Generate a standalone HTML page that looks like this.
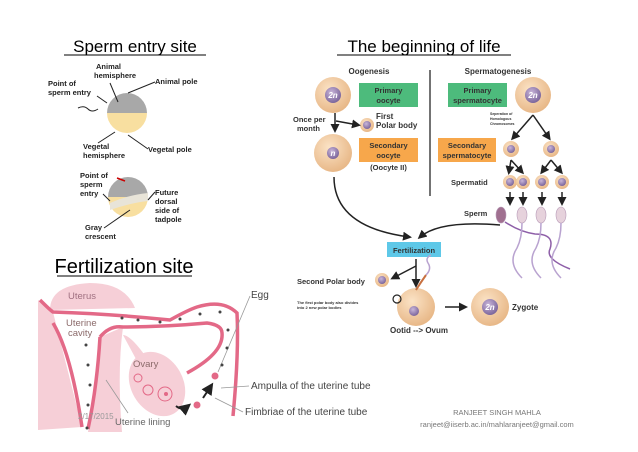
<!DOCTYPE html>
<html><head><style>
html,body{margin:0;padding:0;background:#fff;}
svg{display:block;font-family:"Liberation Sans",Arial,sans-serif;}
</style></head><body>
<svg width="638" height="452" viewBox="0 0 638 452" xmlns="http://www.w3.org/2000/svg">
<defs>
<radialGradient id="cell" cx="40%" cy="35%" r="65%"><stop offset="0" stop-color="#fbe3c6"/><stop offset="1" stop-color="#e8b888"/></radialGradient>
<radialGradient id="nuc" cx="40%" cy="35%" r="65%"><stop offset="0" stop-color="#c9b6d9"/><stop offset="1" stop-color="#7c669c"/></radialGradient>
<marker id="ah" markerWidth="6" markerHeight="6" refX="4" refY="3" orient="auto"><path d="M0,0 L6,3 L0,6 z" fill="#222"/></marker>
</defs>
<!-- titles -->
<text x="135" y="52" font-size="17" text-anchor="middle">Sperm entry site</text>
<line x1="64" y1="55" x2="206" y2="55" stroke="#000" stroke-width="1"/>
<text x="424" y="52" font-size="17" text-anchor="middle">The beginning of life</text>
<line x1="337" y1="55" x2="511" y2="55" stroke="#000" stroke-width="1"/>
<text x="124" y="273" font-size="20" text-anchor="middle">Fertilization site</text>
<line x1="57" y1="276" x2="192" y2="276" stroke="#000" stroke-width="1"/>

<!-- frog eggs -->
<g font-size="7.5" font-weight="bold" fill="#222">
<path d="M107,113 a20,20 0 0 1 40,0 z" fill="#a8a8a8"/>
<path d="M107,113 a20,20 0 0 0 40,0 z" fill="#f8dfa0"/>
<text x="96" y="69">Animal</text><text x="94" y="78">hemisphere</text>
<text x="155" y="84">Animal pole</text>
<text x="48" y="86">Point of</text><text x="48" y="95">sperm entry</text>
<text x="83" y="149">Vegetal</text><text x="83" y="158">hemisphere</text>
<text x="148" y="152">Vegetal pole</text>
<line x1="110" y1="83" x2="118" y2="102" stroke="#222"/>
<line x1="155" y1="82" x2="128" y2="93" stroke="#222"/>
<line x1="97" y1="96" x2="107" y2="103" stroke="#222"/>
<path d="M78,108 q6,-3 10,1 t10,0" stroke="#222" fill="none"/>
<line x1="98" y1="143" x2="115" y2="132" stroke="#222"/>
<line x1="148" y1="149" x2="128" y2="135" stroke="#222"/>
<path d="M108,197 a20,20 0 0 1 40,0 z" fill="#a8a8a8"/>
<path d="M108,197 a20,20 0 0 0 40,0 z" fill="#f8dfa0"/>
<path d="M110,203 q18,-8 38,-10 l0,8 q-18,2 -38,9 z" fill="#e8e4d8"/>
<path d="M117,178 l8,3" stroke="#c00" stroke-width="1.5"/>
<text x="80" y="178">Point of</text><text x="80" y="187">sperm</text><text x="80" y="196">entry</text>
<text x="155" y="195">Future</text><text x="155" y="204">dorsal</text><text x="155" y="213">side of</text><text x="155" y="222">tadpole</text>
<text x="85" y="230">Gray</text><text x="85" y="239">crescent</text>
<line x1="103" y1="194" x2="110" y2="201" stroke="#222"/>
<line x1="104" y1="228" x2="130" y2="210" stroke="#222"/>
<line x1="155" y1="192" x2="148" y2="200" stroke="#222"/>
</g>

<!-- uterus -->
<g>
<path d="M50,310 q0,-25 40,-27 q35,0 45,25 z" fill="#f6cfd7"/>
<path d="M38,300 L53,312 q10,40 29,115 L38,430 z" fill="#f6cfd7"/>
<path d="M100,337 q-5,50 -12,95 L122,432 q-5,-60 1,-105 z" fill="#f6cfd7"/>
<path d="M123,335 q10,0 35,40 L150,385 z" fill="#f6cfd7"/>
<ellipse cx="157" cy="384" rx="26" ry="34" fill="#f6cfd7" transform="rotate(-30 157 384)"/>
<path d="M40,300 q10,10 13,12 q60,2 117,8 q18,-10 27,-13 q26,-8 40,6 q2,40 -4,103" stroke="#e36987" stroke-width="3.5" fill="none"/>
<path d="M100,337 q10,-12 23,-10 q40,0 84,-4 q15,2 15,10 q2,20 -35,40" stroke="#e36987" stroke-width="3.5" fill="none"/>
<path d="M53,323 q18,30 29,104" stroke="#e36987" stroke-width="3.5" fill="none"/>
<path d="M100,337 q-3,50 -12,92" stroke="#e36987" stroke-width="3.5" fill="none"/>
<circle cx="138" cy="378" r="4" fill="none" stroke="#e36987"/>
<circle cx="148" cy="390" r="5" fill="none" stroke="#e36987"/>
<circle cx="165" cy="394" r="7" fill="none" stroke="#e36987"/>
<circle cx="166" cy="394" r="2" fill="#e36987"/>
<circle cx="197" cy="405" r="3.5" fill="#e36987"/>
<circle cx="215" cy="376" r="3.5" fill="#e36987"/>
<path d="M176,406 q6,5 12,0" stroke="#222" stroke-width="2" fill="none" marker-end="url(#ah)"/>
<path d="M203,398 l8,-12" stroke="#222" stroke-width="2" marker-end="url(#ah)"/>
<g font-size="9.5" fill="#8c6b6b">
<text x="68" y="299" fill="#a07080">Uterus</text>
<text x="66" y="326">Uterine</text><text x="68" y="336">cavity</text>
<text x="133" y="367">Ovary</text>
<text x="115" y="425" fill="#666">Uterine lining</text>
</g>
<g font-size="10" fill="#444">
<text x="251" y="298">Egg</text>
<text x="251" y="389">Ampulla of the uterine tube</text>
<text x="245" y="415">Fimbriae of the uterine tube</text>
</g>
<g stroke="#999" stroke-width="0.8">
<line x1="218" y1="372" x2="250" y2="296"/>
<line x1="221" y1="388" x2="249" y2="386"/>
<line x1="215" y1="398" x2="243" y2="412"/>
<line x1="106" y1="380" x2="128" y2="413"/>
</g>
<g fill="#444">
<circle cx="122" cy="318" r="1.5"/><circle cx="138" cy="320" r="1.5"/><circle cx="160" cy="322" r="1.5"/><circle cx="180" cy="319" r="1.5"/><circle cx="200" cy="314" r="1.5"/><circle cx="220" cy="312" r="1.5"/><circle cx="228" cy="330" r="1.5"/><circle cx="227" cy="348" r="1.5"/><circle cx="222" cy="365" r="1.5"/><circle cx="86" cy="345" r="1.5"/><circle cx="88" cy="365" r="1.5"/><circle cx="90" cy="385" r="1.5"/><circle cx="88" cy="405" r="1.5"/><circle cx="87" cy="428" r="1.5"/>
</g>
</g>

<!-- beginning of life -->
<g font-weight="bold" fill="#333">
<text x="369" y="74" font-size="8" text-anchor="middle">Oogenesis</text>
<text x="498" y="74" font-size="8" text-anchor="middle">Spermatogenesis</text>
<line x1="430" y1="70" x2="430" y2="196" stroke="#444" stroke-width="1.5"/>
<rect x="359" y="83" width="59" height="24" fill="#4dbb7c"/>
<text x="388.5" y="93" font-size="7.5" text-anchor="middle">Primary</text><text x="388.5" y="103" font-size="7.5" text-anchor="middle">oocyte</text>
<rect x="359" y="138" width="59" height="24" fill="#f7a74b"/>
<text x="388.5" y="148" font-size="7.5" text-anchor="middle">Secondary</text><text x="388.5" y="158" font-size="7.5" text-anchor="middle">oocyte</text>
<text x="388.5" y="170" font-size="7.5" text-anchor="middle">(Oocyte II)</text>
<rect x="448" y="83" width="59" height="24" fill="#4dbb7c"/>
<text x="477.5" y="93" font-size="7.5" text-anchor="middle">Primary</text><text x="477.5" y="103" font-size="7.5" text-anchor="middle">spermatocyte</text>
<rect x="438" y="138" width="58" height="24" fill="#f7a74b"/>
<text x="467" y="148" font-size="7.5" text-anchor="middle">Secondary</text><text x="467" y="158" font-size="7.5" text-anchor="middle">spermatocyte</text>
<text x="293" y="122" font-size="7.5">Once per</text><text x="297" y="131" font-size="7.5">month</text>
<text x="376" y="119" font-size="8">First</text><text x="376" y="128" font-size="8">Polar body</text>
<text x="451" y="185" font-size="7.5">Spermatid</text>
<text x="464" y="216" font-size="7.5">Sperm</text>
<text x="490" y="115" font-size="3.5">Seperation of</text><text x="490" y="120" font-size="3.5">Homologous</text><text x="490" y="125" font-size="3.5">Chromosomes</text>
<rect x="387" y="242" width="54" height="15" fill="#5ec8e8"/>
<text x="414" y="253" font-size="7.5" text-anchor="middle">Fertilization</text>
<text x="297" y="284" font-size="7.5">Second Polar body</text>
<text x="297" y="304" font-size="4">The first polar body also divides</text><text x="297" y="309" font-size="4">into 2 new polar bodies</text>
<text x="390" y="333" font-size="8">Ootid --&gt; Ovum</text>
<text x="512" y="310" font-size="8">Zygote</text>
</g>
<g>
<g font-size="8" font-style="italic" font-weight="bold" text-anchor="middle" fill="#fff">
<circle cx="333" cy="95" r="18" fill="url(#cell)"/><circle cx="333" cy="95" r="8" fill="url(#nuc)"/><text x="333" y="98">2n</text>
<circle cx="333" cy="153" r="19" fill="url(#cell)"/><circle cx="333" cy="153" r="6" fill="url(#nuc)"/><text x="333" y="156">n</text>
<circle cx="367" cy="125" r="7" fill="url(#cell)"/><circle cx="367" cy="125" r="4" fill="url(#nuc)"/>
<circle cx="533" cy="95" r="18" fill="url(#cell)"/><circle cx="533" cy="95" r="8" fill="url(#nuc)"/><text x="533" y="98">2n</text>
<circle cx="511" cy="149" r="8" fill="url(#cell)"/><circle cx="511" cy="149" r="4" fill="url(#nuc)"/>
<circle cx="551" cy="149" r="8" fill="url(#cell)"/><circle cx="551" cy="149" r="4" fill="url(#nuc)"/>
<circle cx="510" cy="182" r="7" fill="url(#cell)"/><circle cx="510" cy="182" r="4" fill="url(#nuc)"/>
<circle cx="523" cy="182" r="7" fill="url(#cell)"/><circle cx="523" cy="182" r="4" fill="url(#nuc)"/>
<circle cx="542" cy="182" r="7" fill="url(#cell)"/><circle cx="542" cy="182" r="4" fill="url(#nuc)"/>
<circle cx="562" cy="182" r="7" fill="url(#cell)"/><circle cx="562" cy="182" r="4" fill="url(#nuc)"/>
<circle cx="382" cy="280" r="7" fill="url(#cell)"/><circle cx="382" cy="280" r="4" fill="url(#nuc)"/>
<circle cx="416" cy="307" r="19" fill="url(#cell)"/><circle cx="414" cy="311" r="5" fill="url(#nuc)"/>
<circle cx="397" cy="299" r="4" fill="none" stroke="#222" stroke-width="1.2"/>
<circle cx="490" cy="307" r="19" fill="url(#cell)"/><circle cx="490" cy="307" r="8" fill="url(#nuc)"/><text x="490" y="310">2n</text>
</g>
<g fill="#e6d2dc" stroke="#b89bb8" stroke-width="0.6">
<ellipse cx="501" cy="215" rx="5" ry="8" fill="#a07090"/>
<ellipse cx="522" cy="215" rx="5" ry="8"/>
<ellipse cx="541" cy="215" rx="5" ry="8"/>
<ellipse cx="561" cy="215" rx="5" ry="8"/>
</g>
<g fill="none" stroke="#b9a3d0" stroke-width="1.5">
<path d="M505,222 q15,10 30,12 q20,0 15,15 q-5,10 20,20" stroke="#8e5fa8"/>
<path d="M522,223 q0,15 -5,25 q-10,15 5,30"/>
<path d="M541,223 q0,15 -5,25 q-10,15 5,30"/>
<path d="M561,223 q0,15 -5,25 q-10,15 5,30"/>
</g>
<path d="M416,290 q5,-8 10,-15" stroke="#c87040" stroke-width="2" fill="none"/>
<path d="M426,275 q6,-6 2,-12 q-3,-5 3,-8" stroke="#b9a3d0" stroke-width="1.5" fill="none"/>
<g stroke="#222" stroke-width="1.5" fill="none">
<path d="M335,113 L335,130" marker-end="url(#ah)"/>
<path d="M336,121 L358,125" marker-end="url(#ah)"/>
<path d="M533,115 L513,138" marker-end="url(#ah)"/>
<path d="M533,115 L549,138" marker-end="url(#ah)"/>
<path d="M511,160 L509,172" marker-end="url(#ah)"/><path d="M511,160 L522,172" marker-end="url(#ah)"/>
<path d="M551,160 L542,172" marker-end="url(#ah)"/><path d="M551,160 L561,172" marker-end="url(#ah)"/>
<path d="M510,192 L510,203" marker-end="url(#ah)"/><path d="M523,192 L523,203" marker-end="url(#ah)"/>
<path d="M542,192 L542,203" marker-end="url(#ah)"/><path d="M562,192 L562,203" marker-end="url(#ah)"/>
<path d="M334,177 q0,50 75,60" marker-end="url(#ah)"/>
<path d="M500,225 q-60,-5 -80,12" marker-end="url(#ah)"/>
<path d="M416,259 L416,285" marker-end="url(#ah)"/>
<path d="M416,266 L393,278" marker-end="url(#ah)"/>
<path d="M445,307 L465,307" marker-end="url(#ah)"/>
</g>
</g>

<!-- footer -->
<text x="78" y="419" font-size="8" fill="#999">2/17/2015</text>
<text x="497" y="415" font-size="7.5" fill="#777" text-anchor="middle">RANJEET SINGH MAHLA</text>
<text x="497" y="427" font-size="7.5" fill="#777" text-anchor="middle">ranjeet@iiserb.ac.in/mahlaranjeet@gmail.com</text>
</svg>
</body></html>
